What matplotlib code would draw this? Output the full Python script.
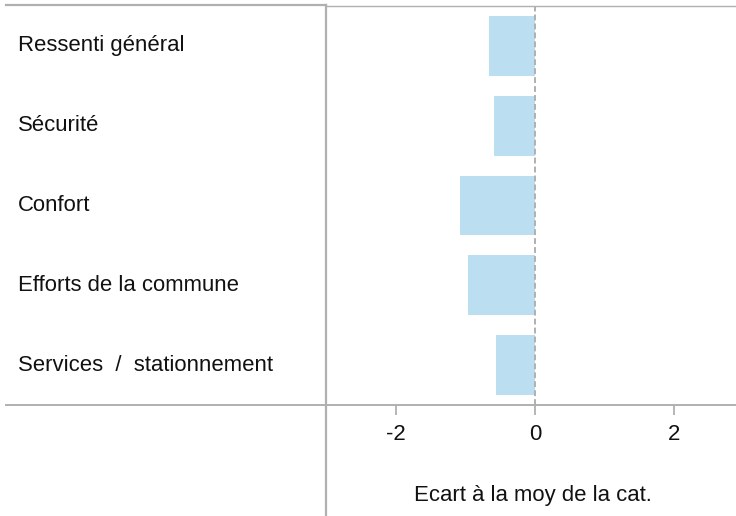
import matplotlib
matplotlib.use("Agg")
import matplotlib.pyplot as plt
from matplotlib.lines import Line2D

categories = ["Ressenti général", "Sécurité", "Confort", "Efforts de la commune", "Services  /  stationnement"]
values = [-0.66, -0.60, -1.09, -0.97, -0.57]
xticks = [-2, 0, 2]
xtick_labels = ["-2", "0", "2"]
xlabel = "Ecart à la moy de la cat."

plt.rcParams['font.family'] = ['Liberation Sans', 'DejaVu Sans']
FS = 15.9
GREY = "#b0b0b0"
BAR = "#bbdff1"
TXT = "#111111"

W, H = 736, 516
fig = plt.figure(figsize=(W / 100, H / 100), dpi=100)

ax_left, ax_right, ax_top, ax_bottom = 326, 736, 6, 405
ax = fig.add_axes([ax_left / W, (H - ax_bottom) / H, (ax_right - ax_left) / W, (ax_bottom - ax_top) / H])

ypos = list(range(len(categories)))
ax.barh(ypos, values, height=0.75, color=BAR, zorder=2)
ax.axvline(0, color=GREY, lw=1.4, ls=(0, (3, 1.6)), zorder=3)

ax.set_ylim(len(categories) - 0.5, -0.5)
ax.set_xlim(-3.01, 2.885)
ax.set_yticks([])
ax.set_xticks(xticks)
ax.set_xticklabels(xtick_labels, fontsize=FS, color=TXT)
ax.tick_params(axis="x", length=7, width=1.3, color=GREY, pad=6.5)

for s in ["left", "right", "bottom"]:
    ax.spines[s].set_visible(False)
ax.spines["top"].set_color(GREY)
ax.spines["top"].set_linewidth(1.0)

# category labels
for y, c in zip(ypos, categories):
    ax.text(18, ax.transData.transform((0, y))[1], c, transform=None,
            fontsize=FS, color=TXT, ha="left", va="center")

def fl(x0, y0, x1, y1, lw):
    fig.add_artist(Line2D([x0 / W, x1 / W], [1 - y0 / H, 1 - y1 / H],
                          transform=fig.transFigure, color=GREY, lw=lw))

fl(6, 5, 326, 5, 1.6)
fl(6, 405, 736, 405, 1.4)
fl(326, 5, 326, 516, 1.6)

fig.text(533 / W, 1 - 495 / H, xlabel, fontsize=FS, color=TXT, ha="center", va="center")

fig.savefig("out.png", dpi=100)
